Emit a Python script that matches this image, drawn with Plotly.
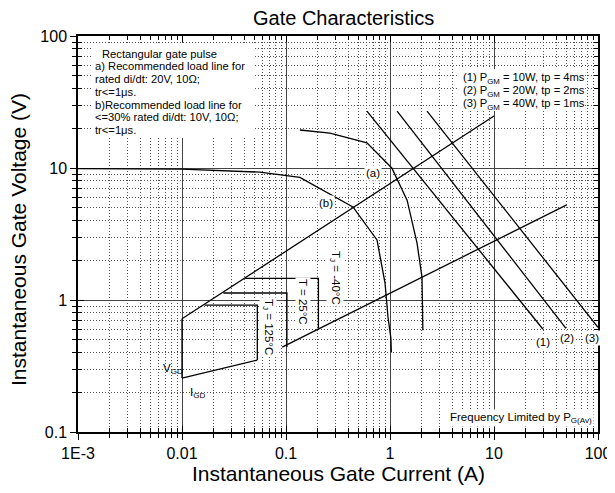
import plotly.graph_objects as go

FONT = "Liberation Sans, Arial, sans-serif"

# ---------------- data ----------------
x_tickvals = [0.001, 0.01, 0.1, 1, 10, 100]
x_ticktext = ["1E-3", "0.01", "0.1", "1", "10", "100"]
y_tickvals = [0.1, 1, 10, 100]
y_ticktext = ["0.1", "1", "10", "100"]

# gate characteristic curves
curve_a_I = [0.136, 0.265, 0.6, 1.04, 1.46, 1.82, 2.03, 2.07]
curve_a_V = [19.4, 18.4, 15.5, 10.0, 5.7, 2.7, 1.49, 0.59]
curve_b_I = [0.001, 0.01, 0.056, 0.136, 0.44, 0.75, 0.895, 0.957, 1.02, 1.03]
curve_b_V = [9.9, 9.8, 9.3, 8.5, 5.07, 2.85, 1.35, 0.74, 0.515, 0.40]

# load lines
load_a_I = [0.01, 10]
load_a_V = [0.72, 24.8]
load_b_I = [0.092, 50]
load_b_V = [0.44, 5.25]

# V_GD / I_GD boundary
vgd_I = [0.01, 0.01]
vgd_V = [0.256, 0.72]
igd_I = [0.01, 0.02, 0.035, 0.053]
igd_V = [0.256, 0.292, 0.325, 0.351]

# junction temperature trigger boxes
tj125_I = [0.0165, 0.053, 0.053]
tj125_V = [0.916, 0.916, 0.351]
t25_I = [0.025, 0.102, 0.102]
t25_V = [1.13, 1.13, 0.44]
tjm40_I = [0.0405, 0.205, 0.205]
tjm40_V = [1.46, 1.46, 0.61]

# peak gate power lines
p1_I = [0.6, 29.6]
p1_V = [27, 0.60]
p2_I = [1.17, 49.2]
p2_V = [27, 0.61]
p3_I = [2.27, 100]
p3_V = [27, 0.62]

legend_lines = [
    "Rectangular gate pulse",
    "a) Recommended load line for",
    "rated di/dt: 20V, 10\u03a9;",
    "tr<=1\u03bcs.",
    "b)Recommended load line for",
    "<=30% rated di/dt: 10V, 10\u03a9;",
    "tr<=1\u03bcs.",
]
pgm_lines = [
    "(1) P<sub>GM</sub> = 10W, tp = 4ms",
    "(2) P<sub>GM</sub> = 20W, tp = 2ms",
    "(3) P<sub>GM</sub> = 40W, tp = 1ms",
]

# ---------------- layout helpers ----------------
# the page body has an 8px margin, so the figure is drawn 8px smaller
OFF = 8
W, H = 615 - OFF, 493 - OFF
L, T = 78 - OFF, 36 - OFF
PW, PH = 520, 396
R, B = W - L - PW, H - T - PH


def px(xp):  # reference pixel x -> paper
    return (xp - 78) / PW


def py(yp):  # reference pixel y -> paper
    return (36 + PH - yp) / PH


minor_x = [m * 10 ** e for e in range(-3, 2) for m in range(2, 10)]
minor_y = [m * 10 ** e for e in range(-1, 2) for m in range(2, 10)]

fig = go.Figure()
line_style = dict(color="black", width=1.3)


def add(I, V, axes=("x", "y")):
    fig.add_trace(go.Scatter(x=I, y=V, mode="lines", line=line_style,
                             xaxis=axes[0], yaxis=axes[1],
                             showlegend=False, hoverinfo="skip"))


for I, V in [(curve_a_I, curve_a_V), (curve_b_I, curve_b_V),
             (load_a_I, load_a_V), (load_b_I, load_b_V),
             (vgd_I, vgd_V), (igd_I, igd_V),
             (tj125_I, tj125_V), (t25_I, t25_V), (tjm40_I, tjm40_V)]:
    add(I, V)
for I, V in [(p1_I, p1_V), (p2_I, p2_V), (p3_I, p3_V)]:
    add(I, V, ("x2", "y2"))

tickfont = dict(family=FONT, size=16, color="black")

common_x = dict(type="log", range=[-3, 2], zeroline=False)
common_y = dict(type="log", range=[-1, 2], zeroline=False)
minor_grid = dict(showgrid=True, gridcolor="#555", griddash="1px,2px", gridwidth=1)

fig.update_layout(
    width=W, height=H,
    margin=dict(l=L, r=R, t=T, b=B, autoexpand=False),
    paper_bgcolor="white", plot_bgcolor="white",
    font=dict(family=FONT, color="black"),
    xaxis=dict(**common_x, tickmode="array", tickvals=x_tickvals, ticktext=x_ticktext,
               ticks="outside", ticklen=6, tickwidth=1, tickcolor="black",
               showline=True, linecolor="black", linewidth=1.5, mirror=True,
               showgrid=True, gridcolor="#444", gridwidth=1.2,
               minor=dict(tickmode="array", tickvals=minor_x, ticks="outside",
                          ticklen=4, tickcolor="black", **minor_grid),
               tickfont=tickfont, automargin=False),
    yaxis=dict(**common_y, tickmode="array", tickvals=y_tickvals, ticktext=y_ticktext,
               ticks="outside", ticklen=6, tickwidth=1, tickcolor="black",
               showline=True, linecolor="black", linewidth=1.5, mirror=True,
               showgrid=True, gridcolor="#444", gridwidth=1.2,
               minor=dict(tickmode="array", tickvals=minor_y, ticks="outside",
                          ticklen=4, tickcolor="black", **minor_grid),
               tickfont=tickfont, automargin=False),
    xaxis2=dict(**common_x, overlaying="x", anchor="y2", side="bottom",
                tickmode="array", tickvals=x_tickvals, showticklabels=False,
                ticks="inside", ticklen=6, tickcolor="black",
                showline=True, linecolor="black", linewidth=1.5, mirror="ticks",
                showgrid=False, automargin=False,
                minor=dict(tickmode="array", tickvals=minor_x, ticks="inside",
                           ticklen=4, tickcolor="black", showgrid=False)),
    yaxis2=dict(**common_y, overlaying="y", anchor="x2", side="left",
                tickmode="array", tickvals=y_tickvals, showticklabels=False,
                ticks="inside", ticklen=6, tickcolor="black",
                showline=True, linecolor="black", linewidth=1.5, mirror="ticks",
                showgrid=False, automargin=False,
                minor=dict(tickmode="array", tickvals=minor_y, ticks="inside",
                           ticklen=4, tickcolor="black", showgrid=False)),
)

# white legend boxes (cover the grid)
fig.add_shape(type="rect", xref="paper", yref="paper", layer="above",
              x0=px(92), x1=px(255), y0=py(43), y1=py(138),
              fillcolor="white", line=dict(width=0))
fig.add_shape(type="rect", xref="paper", yref="paper", layer="above",
              x0=px(459), x1=px(585), y0=py(69), y1=py(111),
              fillcolor="white", line=dict(width=0))

ann = []


def text(x, y, s, size=11.5, xanchor="left", angle=0, bg=None, height=None):
    d = dict(x=px(x), y=py(y), xref="paper", yref="paper", text=s, showarrow=False,
             xanchor=xanchor, yanchor="middle", textangle=angle,
             font=dict(family=FONT, size=size, color="black"))
    if bg:
        d["bgcolor"] = bg
        d["borderpad"] = 1
    if height:
        d["height"] = height
    ann.append(d)


ys = [53.5, 66.3, 79.1, 91.9, 104.7, 117.5, 130.3]
for i, (s, y) in enumerate(zip(legend_lines, ys)):
    text(100 if i == 0 else 93, y, s, size=11.2, height=12)
for s, y in zip(pgm_lines, [78, 91.5, 105]):
    text(461, y, s, size=11.2, height=13)

text(373, 173, "(a)", xanchor="center", bg="white")
text(326, 203, "(b)", xanchor="center", bg="white")
text(543, 342, "(1)", xanchor="center", bg="white")
text(567, 338, "(2)", xanchor="center", bg="white")
text(592, 338, "(3)", xanchor="center", bg="white")
text(335, 278, "T<sub>J</sub> = -40\u00b0C", xanchor="center", angle=90, bg="white")
text(303, 302, "T = 25\u00b0C", xanchor="center", angle=90, bg="white")
text(268, 327, "T<sub>J</sub> = 125\u00b0C", xanchor="center", angle=90, bg="white")
text(161, 369, "V<sub>GD</sub>", size=11.5)
text(188, 393, "I<sub>GD</sub>", size=11.5)
text(521, 418, "Frequency Limited by P<sub>G(Av)</sub>", size=11.5, xanchor="center", bg="white")

# titles
ann.append(dict(x=px(343), y=py(18), xref="paper", yref="paper", showarrow=False,
                text="Gate Characteristics", xanchor="center", yanchor="middle",
                font=dict(family=FONT, size=20, color="black")))
ann.append(dict(x=px(338), y=py(474), xref="paper", yref="paper", showarrow=False,
                text="Instantaneous Gate Current (A)", xanchor="center", yanchor="middle",
                font=dict(family=FONT, size=21, color="black")))
ann.append(dict(x=px(18), y=py(240), xref="paper", yref="paper", showarrow=False,
                text="Instantaneous Gate Voltage (V)", xanchor="center", yanchor="middle",
                textangle=-90, font=dict(family=FONT, size=21, color="black")))
fig.update_layout(annotations=ann)

fig.write_html("out.html")
